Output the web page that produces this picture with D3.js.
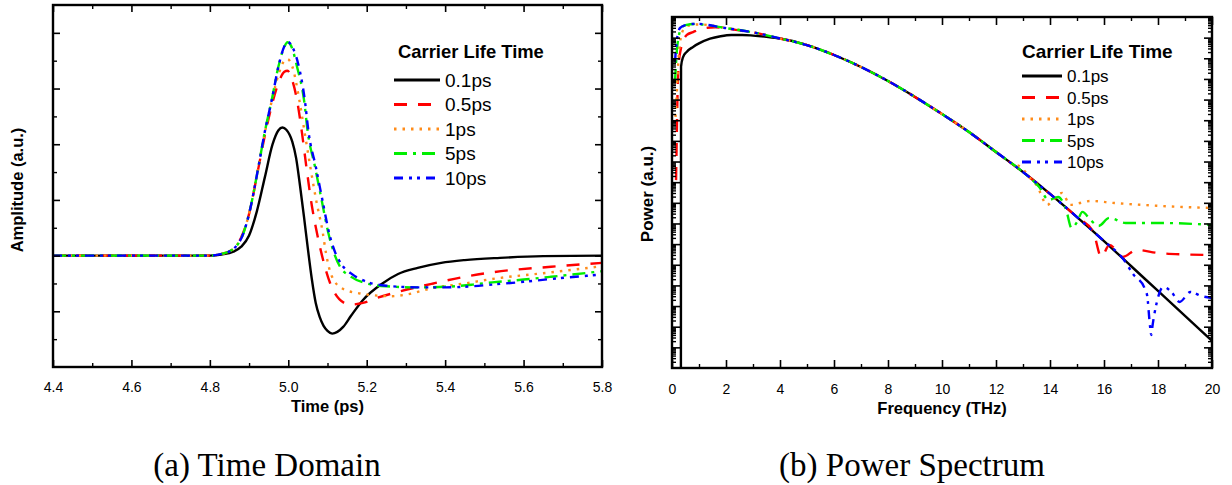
<!DOCTYPE html>
<html>
<head>
<meta charset="utf-8">
<script src="https://cdn.jsdelivr.net/npm/d3@7"></script>
<style>
  body { margin: 0; background: #fff; }
  svg text { font-family: Arial, "Liberation Sans", sans-serif; fill: #000; }
</style>
</head>
<body>
<svg id="chart" width="1232" height="485"></svg>
<script>
// series shared by both panels
const lifeTimes = ["0.1ps", "0.5ps", "1ps", "5ps", "10ps"];
const lineColors = ["#000000", "#ff0000", "#ff8c1a", "#00ee00", "#0000ff"];
const lineDashes = [null, "13,11", "2.5,6", "13,6,3,6", "9,6,3,5,3,6"];

// (a) time domain: [time ps, amplitude a.u.]
const timeMajor = [4.4, 4.6, 4.8, 5.0, 5.2, 5.4, 5.6, 5.8];
const timeMinor = [4.5, 4.7, 4.9, 5.1, 5.3, 5.5, 5.7];
const ampMajor = [-1, 0, 1, 2, 3, 4];
const ampMinor = [-1.5, -0.5, 0.5, 1.5, 2.5, 3.5];

const amp01 = [[4.40,0],[4.80,0],[4.83,0.02],[4.86,0.07],[4.88,0.16],[4.90,0.36],[4.92,0.80],[4.94,1.40],[4.96,2.00],[4.975,2.25],[4.985,2.30],[4.995,2.26],[5.01,2.05],[5.02,1.75],[5.03,1.25],[5.04,0.70],[5.05,0.12],[5.06,-0.42],[5.07,-0.85],[5.08,-1.10],[5.09,-1.26],[5.10,-1.35],[5.112,-1.40],[5.125,-1.37],[5.14,-1.28],[5.16,-1.08],[5.19,-0.80],[5.24,-0.50],[5.28,-0.33],[5.33,-0.22],[5.39,-0.13],[5.45,-0.08],[5.54,-0.04],[5.65,-0.01],[5.80,0]];
const amp05 = [[4.40,0],[4.80,0],[4.83,0.03],[4.86,0.12],[4.885,0.41],[4.90,0.75],[4.924,1.58],[4.94,2.15],[4.958,2.70],[4.975,3.10],[4.99,3.30],[4.998,3.32],[5.01,3.15],[5.022,2.80],[5.035,2.20],[5.046,1.60],[5.06,0.90],[5.073,0.41],[5.086,0.0],[5.107,-0.50],[5.13,-0.78],[5.158,-0.88],[5.19,-0.85],[5.226,-0.76],[5.27,-0.67],[5.37,-0.50],[5.45,-0.38],[5.52,-0.30],[5.67,-0.20],[5.80,-0.13]];
const amp1 = [[4.40,0],[4.80,0],[4.83,0.03],[4.86,0.12],[4.885,0.41],[4.90,0.75],[4.924,1.60],[4.94,2.20],[4.958,2.78],[4.975,3.25],[4.99,3.50],[4.998,3.53],[5.01,3.40],[5.028,2.80],[5.042,2.20],[5.056,1.60],[5.071,1.00],[5.088,0.41],[5.096,0.05],[5.111,-0.37],[5.14,-0.60],[5.183,-0.68],[5.23,-0.72],[5.26,-0.73],[5.30,-0.70],[5.37,-0.58],[5.45,-0.50],[5.52,-0.42],[5.67,-0.30],[5.80,-0.19]];
const amp5 = [[4.40,0],[4.80,0],[4.83,0.03],[4.86,0.12],[4.886,0.41],[4.90,0.75],[4.924,1.60],[4.94,2.22],[4.958,2.80],[4.975,3.40],[4.99,3.75],[4.998,3.83],[5.01,3.72],[5.022,3.40],[5.04,2.80],[5.05,2.20],[5.068,1.60],[5.085,1.00],[5.102,0.41],[5.119,0.0],[5.132,-0.20],[5.158,-0.37],[5.20,-0.50],[5.25,-0.55],[5.33,-0.57],[5.40,-0.56],[5.47,-0.52],[5.52,-0.48],[5.60,-0.43],[5.67,-0.38],[5.80,-0.28]];
const amp10 = [[4.40,0],[4.80,0],[4.83,0.03],[4.86,0.12],[4.886,0.41],[4.90,0.75],[4.924,1.60],[4.94,2.22],[4.958,2.80],[4.975,3.40],[4.99,3.76],[4.998,3.84],[5.01,3.75],[5.025,3.45],[5.042,2.80],[5.052,2.20],[5.07,1.60],[5.087,1.00],[5.104,0.41],[5.12,0.05],[5.135,-0.15],[5.16,-0.32],[5.20,-0.47],[5.25,-0.54],[5.33,-0.57],[5.40,-0.57],[5.47,-0.55],[5.52,-0.52],[5.60,-0.47],[5.67,-0.42],[5.80,-0.34]];

// (b) power spectrum: [frequency THz, log10 power]
const freqMajor = [0, 2, 4, 6, 8, 10, 12, 14, 16, 18, 20];
const freqMinor = [1, 3, 5, 7, 9, 11, 13, 15, 17, 19];
const powerDecades = d3.range(-17, 1);

// part of the roll-off where all five curves lie on top of each other
const sharedSlope = [[4.0,-1.04],[5.0,-1.36],[6.0,-1.84],[7.0,-2.42],[8.0,-3.10],[9.0,-3.87],[10.0,-4.70],[11.0,-5.57],[12.0,-6.54]];

const pow01 = [[0.33,-17],[0.335,-2.4],[0.41,-1.94],[0.55,-1.68],[0.78,-1.45],[1.0,-1.28],[1.41,-1.05],[1.8,-0.93],[2.2,-0.87],[2.6,-0.87],[3.0,-0.90],[3.5,-0.96]]
  .concat(sharedSlope, [[13.0,-7.51],[14.0,-8.57],[15.0,-9.69],[16.0,-10.85],[17.0,-12.06],[18.0,-13.27],[19.0,-14.48],[20.0,-15.69]]);
const pow05 = [[0.15,-7.9],[0.18,-5.5],[0.21,-3.4],[0.25,-2.3],[0.32,-1.6],[0.40,-1.2],[0.55,-0.87],[0.78,-0.73],[1.15,-0.55],[1.6,-0.5],[2.04,-0.56],[2.5,-0.65],[3.1,-0.77]]
  .concat(sharedSlope, [[13.0,-7.51],[14.0,-8.57],[15.0,-9.69],[15.6,-10.4],[15.9,-11.62],[16.2,-11.04],[16.7,-11.62],[17.2,-11.28],[18.0,-11.43],[19.0,-11.50],[20.0,-11.53]]);
const pow1 = [[0.13,-4.84],[0.17,-3.9],[0.22,-2.5],[0.30,-1.2],[0.45,-0.55],[0.6,-0.42],[1.0,-0.36],[2.0,-0.53],[3.1,-0.77]]
  .concat(sharedSlope, [[12.6,-7.1],[12.9,-7.25],[13.3,-7.86],[13.5,-8.14],[13.9,-9.10],[14.15,-8.77],[14.45,-8.52],[14.75,-9.10],[15.1,-9.01],[15.5,-8.91],[16.4,-9.01],[17.4,-9.10],[18.9,-9.20],[20.0,-9.25]]);
const pow5 = [[0.11,-3.15],[0.2,-1.36],[0.35,-0.53],[0.5,-0.39],[0.85,-0.34],[1.0,-0.35],[1.96,-0.53],[3.1,-0.77]]
  .concat(sharedSlope, [[13.0,-7.51],[13.6,-8.23],[13.95,-8.86],[14.3,-8.72],[14.6,-9.35],[14.8,-10.22],[15.0,-9.93],[15.2,-9.44],[15.5,-9.83],[15.8,-10.12],[16.2,-9.73],[16.8,-9.98],[18.2,-9.98],[20.0,-10.07]]);
const pow10 = [[0.11,-2.18],[0.18,-1.11],[0.3,-0.53],[0.5,-0.39],[0.9,-0.33],[1.96,-0.53],[3.1,-0.77]]
  .concat(sharedSlope, [[13.0,-7.51],[14.0,-8.57],[15.0,-9.69],[16.0,-10.85],[16.7,-11.70],[17.1,-12.49],[17.5,-13.12],[17.6,-13.5],[17.7,-14.92],[17.75,-15.40],[17.8,-14.92],[17.95,-13.85],[18.2,-13.07],[18.5,-13.32],[18.8,-13.80],[19.2,-13.32],[19.6,-13.51],[20.0,-13.61]]);

const svg = d3.select("#chart");
svg.append("rect").attr("width", 1232).attr("height", 485).attr("fill", "#fff");

// boxed frame, inward ticks on all four sides, labels only at the bottom
function frameAxes(g, x, y, xMajor, xMinor, yMajor, yMinor, majorLen, minorLen, fmt) {
  const [x0, x1] = x.range();
  const [y0, y1] = y.range();
  const defs = [
    ["bottom", d3.axisBottom, `translate(0,${y0})`, x, xMajor, xMinor],
    ["top", d3.axisTop, `translate(0,${y1})`, x, xMajor, xMinor],
    ["left", d3.axisLeft, `translate(${x0},0)`, y, yMajor, yMinor],
    ["right", d3.axisRight, `translate(${x1},0)`, y, yMajor, yMinor]
  ];
  for (const [side, make, tr, sc, major, minor] of defs) {
    const labels = side === "bottom";
    const a = g.append("g").attr("transform", tr)
      .call(make(sc).tickValues(major).tickSizeInner(-majorLen).tickSizeOuter(0)
        .tickPadding(labels ? 8 + majorLen : 0).tickFormat(labels ? fmt : ""));
    a.select(".domain").remove();
    a.selectAll("line").attr("stroke-width", 1.6);
    a.selectAll("text").attr("font-size", 14);
    const m = g.append("g").attr("transform", tr)
      .call(make(sc).tickValues(minor).tickSizeInner(-minorLen).tickSizeOuter(0).tickFormat(""));
    m.select(".domain").remove();
    m.selectAll("line").attr("stroke-width", 1.4);
  }
  g.append("rect")
    .attr("x", x0).attr("y", y1)
    .attr("width", x1 - x0).attr("height", y0 - y1)
    .attr("fill", "none").attr("stroke", "#000").attr("stroke-width", 2.4);
}

function drawLegend(g, o) {
  g.append("text")
    .attr("x", o.titleX).attr("y", o.titleY)
    .attr("font-size", o.titleSize).attr("font-weight", "bold")
    .text("Carrier Life Time");
  lifeTimes.forEach((name, i) => {
    const yy = o.rowY + i * o.rowGap;
    g.append("line")
      .attr("x1", o.lineX).attr("x2", o.lineX + o.lineLen)
      .attr("y1", yy).attr("y2", yy)
      .attr("stroke", lineColors[i]).attr("stroke-width", 2.8)
      .attr("stroke-dasharray", lineDashes[i]);
    g.append("text")
      .attr("x", o.lineX + o.lineLen + 5).attr("y", yy + o.labelSize * 0.36)
      .attr("font-size", o.labelSize)
      .text(name);
  });
}

function drawCurves(g, clipId, series, line) {
  series.forEach((s, i) => {
    g.append("path")
      .datum(s)
      .attr("clip-path", `url(#${clipId})`)
      .attr("d", line)
      .attr("fill", "none")
      .attr("stroke", lineColors[i])
      .attr("stroke-width", 2.4)
      .attr("stroke-dasharray", lineDashes[i]);
  });
}

// ---------- (a) time domain ----------
const xTime = d3.scaleLinear().domain([4.4, 5.8]).range([53, 602]);
const yAmp = d3.scaleLinear().domain([-2, 4.5]).range([367, 5]);

const gA = svg.append("g");
gA.append("clipPath").attr("id", "clipA").append("rect")
  .attr("x", 53).attr("y", 5).attr("width", 549).attr("height", 362);

const ampLine = d3.line().x(d => xTime(d[0])).y(d => yAmp(d[1])).curve(d3.curveMonotoneX);
drawCurves(gA, "clipA", [amp01, amp05, amp1, amp5, amp10], ampLine);
frameAxes(gA, xTime, yAmp, timeMajor, timeMinor, ampMajor, ampMinor, 7, 4, d3.format(".1f"));

gA.append("text")
  .attr("x", (53 + 602) / 2).attr("y", 412)
  .attr("text-anchor", "middle").attr("font-size", 16.5).attr("font-weight", "bold")
  .text("Time (ps)");
gA.append("text")
  .attr("transform", "translate(23,190) rotate(-90)")
  .attr("text-anchor", "middle").attr("font-size", 16.5).attr("font-weight", "bold")
  .text("Amplitude (a.u.)");

drawLegend(gA, { titleX: 398, titleY: 58, titleSize: 18.4, lineX: 394, rowY: 80, rowGap: 24.5, lineLen: 46, labelSize: 19 });

// ---------- (b) power spectrum ----------
const xFreq = d3.scaleLinear().domain([0, 20]).range([672, 1212]);
const yPow = d3.scaleLog().domain([1e-17, 1]).range([368, 17]);

const gB = svg.append("g");
gB.append("clipPath").attr("id", "clipB").append("rect")
  .attr("x", 672).attr("y", 17).attr("width", 540).attr("height", 351);

const powLine = d3.line().x(d => xFreq(d[0])).y(d => yPow(Math.pow(10, d[1]))).curve(d3.curveMonotoneX);
drawCurves(gB, "clipB", [pow01, pow05, pow1, pow5, pow10], powLine);

const powMajor = powerDecades.slice(1, -1).map(k => Math.pow(10, k));
const powMinor = [];
powerDecades.slice(0, -1).forEach(k => { for (let m = 2; m <= 9; m++) powMinor.push(m * Math.pow(10, k)); });

frameAxes(gB, xFreq, yPow, freqMajor, freqMinor, powMajor, powMinor, 8, 4, d3.format("d"));

gB.append("text")
  .attr("x", (672 + 1212) / 2).attr("y", 414)
  .attr("text-anchor", "middle").attr("font-size", 16.5).attr("font-weight", "bold")
  .text("Frequency (THz)");
gB.append("text")
  .attr("transform", "translate(653,194) rotate(-90)")
  .attr("text-anchor", "middle").attr("font-size", 17).attr("font-weight", "bold")
  .text("Power (a.u.)");

drawLegend(gB, { titleX: 1022, titleY: 58, titleSize: 19, lineX: 1022, rowY: 76, rowGap: 21.5, lineLen: 40, labelSize: 17 });

// ---------- captions ----------
const captionFont = "'Times New Roman', 'Liberation Serif', serif";
svg.append("text")
  .attr("x", 267).attr("y", 476).attr("text-anchor", "middle").attr("font-size", 33)
  .style("font-family", captionFont)
  .text("(a) Time Domain");
svg.append("text")
  .attr("x", 912).attr("y", 476).attr("text-anchor", "middle").attr("font-size", 33)
  .style("font-family", captionFont)
  .text("(b) Power Spectrum");
</script>
</body>
</html>
